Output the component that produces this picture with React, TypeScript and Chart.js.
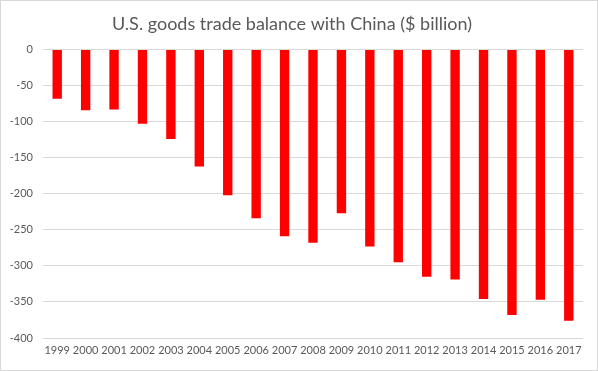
import React, { useEffect, useRef } from "react";
import { Chart, registerables } from "chart.js";

Chart.register(...registerables);

const years = ["1999","2000","2001","2002","2003","2004","2005","2006","2007","2008","2009","2010","2011","2012","2013","2014","2015","2016","2017"];
const balance = [-68, -84, -83, -103, -124, -162, -202, -234, -259, -268, -227, -273, -295, -315, -319, -346, -368, -347, -376];
const titleText = "U.S. goods trade balance with China ($ billion)";
const yMin = -400;
const yMax = 0;
const yStep = 50;

export default function App() {
  const ref = useRef<HTMLCanvasElement>(null);
  useEffect(() => {
    document.body.style.margin = "0";
    const ctx = ref.current!;
    const chart = new Chart(ctx, {
      type: "bar",
      data: {
        labels: years,
        datasets: [
          {
            data: balance,
            backgroundColor: "#ff0000",
            borderWidth: 0,
            barPercentage: 0.33,
            categoryPercentage: 1,
          },
        ],
      },
      options: {
        animation: false,
        responsive: false,
        maintainAspectRatio: false,
        layout: { padding: { left: 0, right: 14, top: 0, bottom: 0 } },
        plugins: {
          legend: { display: false },
          tooltip: { enabled: false },
          title: {
            display: true,
            text: titleText,
            color: "#595959",
            font: { family: "Lato", size: 18, weight: "normal" },
            padding: { top: 12, bottom: 15 },
          },
        },
        scales: {
          x: {
            position: "bottom",
            grid: { display: false, drawTicks: false },
            border: { display: false },
            ticks: {
              color: "#595959",
              font: { family: "Lato", size: 11 },
              maxRotation: 0,
              autoSkip: false,
              padding: 6,
            },
            afterFit: (s: any) => {
              s.height = 32;
            },
          },
          y: {
            min: yMin,
            max: yMax,
            grid: { color: "#d9d9d9", drawTicks: false, lineWidth: 1 },
            border: { display: false },
            ticks: {
              stepSize: yStep,
              color: "#595959",
              font: { family: "Lato", size: 11 },
              padding: 10,
            },
            afterFit: (s: any) => {
              s.width = 42;
            },
          },
        },
      },
    });
    return () => chart.destroy();
  }, []);
  return (
    <div
      style={{
        position: "absolute",
        left: 0,
        top: 0,
        width: 598,
        height: 371,
        boxSizing: "border-box",
        border: "1px solid #d9d9d9",
        background: "#fff",
      }}
    >
      <canvas ref={ref} width={596} height={369} style={{ display: "block" }} />
    </div>
  );
}
